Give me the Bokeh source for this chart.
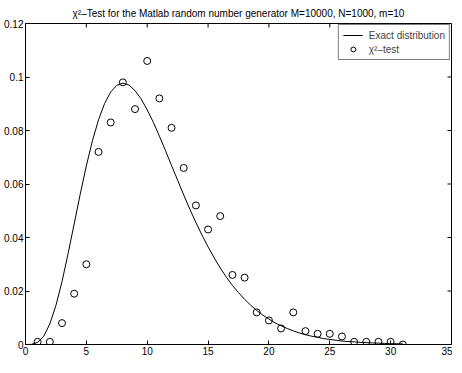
import math
from bokeh.plotting import figure
from bokeh.models import Legend, LegendItem, Range1d, FixedTicker
from bokeh.embed import file_html
from bokeh.resources import INLINE

# chi^2-test results (circles)
test_x = [1, 2, 3, 4, 5, 6, 7, 8, 9, 10, 11, 12, 13, 14, 15, 16, 17, 18, 19, 20,
          21, 22, 23, 24, 25, 26, 27, 28, 29, 30, 31]
test_y = [0.001, 0.001, 0.008, 0.019, 0.030, 0.072, 0.083, 0.098, 0.088, 0.106,
          0.092, 0.081, 0.066, 0.052, 0.043, 0.048, 0.026, 0.025, 0.012, 0.009,
          0.006, 0.012, 0.005, 0.004, 0.004, 0.003, 0.001, 0.001, 0.001, 0.001, 0.0]

# exact distribution curve
exact_x = [0, 0.5, 1, 1.5, 2, 2.5, 3, 3.5, 4, 4.5, 5, 5.5, 6, 6.5, 7, 7.5, 8, 8.5, 9, 9.5,
           10, 10.5, 11, 11.5, 12, 12.5, 13, 13.5, 14, 14.5, 15, 15.5, 16, 16.5, 17, 17.5,
           18, 18.5, 19, 19.5, 20, 20.5, 21, 21.5, 22, 22.5, 23, 23.5, 24, 24.5, 25, 25.5,
           26, 26.5, 27, 27.5, 28, 28.5, 29, 29.5, 30, 30.5, 31]
exact_y = [0.0, 0.00006, 0.0008, 0.0031, 0.0077, 0.0146, 0.0235, 0.0340, 0.0451, 0.0563,
           0.0668, 0.0762, 0.0840, 0.0901, 0.0944, 0.0969, 0.0977, 0.0970, 0.0949, 0.0918,
           0.0877, 0.0831, 0.0779, 0.0725, 0.0669, 0.0614, 0.0559, 0.0506, 0.0456, 0.0409,
           0.0365, 0.0324, 0.0286, 0.0252, 0.0221, 0.0194, 0.0169, 0.0147, 0.0127, 0.0110,
           0.0095, 0.0081, 0.0070, 0.0060, 0.0051, 0.0043, 0.0037, 0.0031, 0.0027, 0.0022,
           0.0019, 0.0016, 0.0013, 0.0011, 0.0010, 0.0008, 0.0007, 0.0006, 0.0005, 0.0004,
           0.0003, 0.0003, 0.0002]

x_ticks = [0, 5, 10, 15, 20, 25, 30, 35]
y_ticks = [0, 0.02, 0.04, 0.06, 0.08, 0.1, 0.12]
y_tick_labels = {0: "0", 0.02: "0.02", 0.04: "0.04", 0.06: "0.06", 0.08: "0.08", 0.1: "0.1", 0.12: "0.12"}
x_max, y_max = 35, 0.12

title_text = "\u03c7\u00b2\u2013Test for the Matlab random number generator M=10000, N=1000, m=10"
FONT = "Liberation Sans"

p = figure(width=452, height=357, output_backend="svg", toolbar_location=None,
           x_range=Range1d(0, x_max), y_range=Range1d(0, y_max),
           min_border_left=25, min_border_top=0, min_border_right=1, min_border_bottom=0)
p.xgrid.visible = False
p.ygrid.visible = False
p.outline_line_color = "black"
p.background_fill_color = "white"

p.title.text = title_text
p.title.align = "center"
p.title.text_font = FONT
p.title.text_font_size = "10px"
p.title.text_font_style = "normal"
p.title.text_color = "black"
p.title.standoff = 10
p.title.offset = 6

for ax in (p.xaxis[0], p.yaxis[0]):
    ax.major_tick_in = 4
    ax.major_tick_out = 0
    ax.minor_tick_line_color = None
    ax.axis_line_color = "black"
    ax.major_tick_line_color = "black"
    ax.major_label_text_font = FONT
    ax.major_label_text_font_size = "10px"
    ax.major_label_text_color = "black"
    ax.major_label_standoff = 2
p.xaxis.ticker = FixedTicker(ticks=x_ticks)
p.yaxis.ticker = FixedTicker(ticks=y_ticks)
p.yaxis.major_label_overrides = y_tick_labels

# mirrored inward ticks on top and right edges (screen-length rays from the tick positions)
p.ray(x=x_ticks, y=[y_max] * len(x_ticks), length=4, length_units="screen",
      angle=-math.pi / 2, line_color="black", line_width=1)
p.ray(x=[x_max] * len(y_ticks), y=y_ticks, length=4, length_units="screen",
      angle=math.pi, line_color="black", line_width=1)

line_r = p.line(exact_x, exact_y, line_color="black", line_width=1)
circ_r = p.scatter(test_x, test_y, marker="circle", size=7, fill_color=None,
                   line_color="black", line_width=1)

legend = Legend(items=[LegendItem(label="Exact distribution", renderers=[line_r]),
                       LegendItem(label="\u03c7\u00b2\u2013test", renderers=[circ_r])],
                location="top_right", margin=1, padding=4, spacing=2,
                label_text_font=FONT, label_text_font_size="10px",
                label_height=12, glyph_height=12, glyph_width=20, label_standoff=6,
                border_line_color="black", border_line_width=1,
                background_fill_color="white", background_fill_alpha=1)
p.add_layout(legend, "center")

open("out.html", "w").write(file_html(p, INLINE))
